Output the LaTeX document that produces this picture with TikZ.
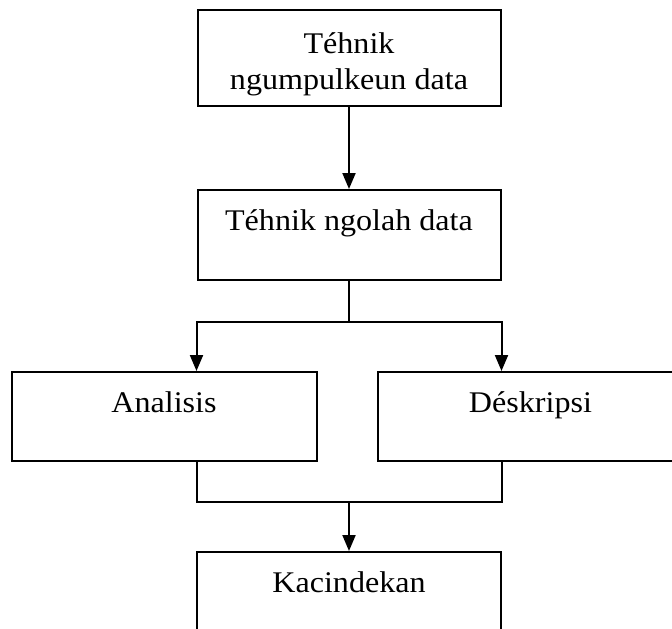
\documentclass[tikz,border=0pt]{standalone}
\usepackage{fontspec}
\setmainfont{Liberation Serif}[FakeStretch=1.07]
\usetikzlibrary{arrows.meta}
\tikzset{
  x=1pt, y=-1pt,
  boxnode/.style={draw=black, line width=2pt, fill=white, inner xsep=0pt, inner ysep=0pt,
    font=\fontsize{30}{36}\selectfont, text height=40pt, text depth=49pt, anchor=base},
  conn/.style={draw=black, line width=2pt},
  arrowconn/.style={conn, -{Triangle[length=16pt,width=13pt]}}
}
\begin{document}
\begin{tikzpicture}
\useasboundingbox (0,0) rectangle (672,629);
% boxes (anchor = baseline of first text line)
\node[boxnode, minimum width=303pt, text height=43pt, text depth=53pt] (ngumpul) at (349,53)
  {\begin{tabular}[t]{@{}c@{}}Téhnik\\ngumpulkeun data\end{tabular}};
\node[boxnode, minimum width=303pt, text depth=50pt] (ngolah) at (349,230) {Téhnik ngolah data};
\node[boxnode, minimum width=305pt] (analisis) at (164,412) {Analisis};
\node[boxnode, minimum width=305pt] (deskripsi) at (530.5,412) {Déskripsi};
\node[boxnode, minimum width=304pt] (kacindekan) at (349,592) {Kacindekan};
% connectors
\coordinate (split) at (349,322);
\coordinate (join) at (349,502);
\draw[arrowconn] (ngumpul.south) -- (ngolah.north);
\draw[conn] (ngolah.south) -- (split);
\draw[arrowconn] (split) -| (ngolah.west |- analisis.north);
\draw[arrowconn] (split) -| (ngolah.east |- deskripsi.north);
\draw[conn] (ngolah.west |- analisis.south) |- (join);
\draw[conn] (ngolah.east |- deskripsi.south) |- (join);
\draw[arrowconn] (join) -- (kacindekan.north);
\end{tikzpicture}
\end{document}
